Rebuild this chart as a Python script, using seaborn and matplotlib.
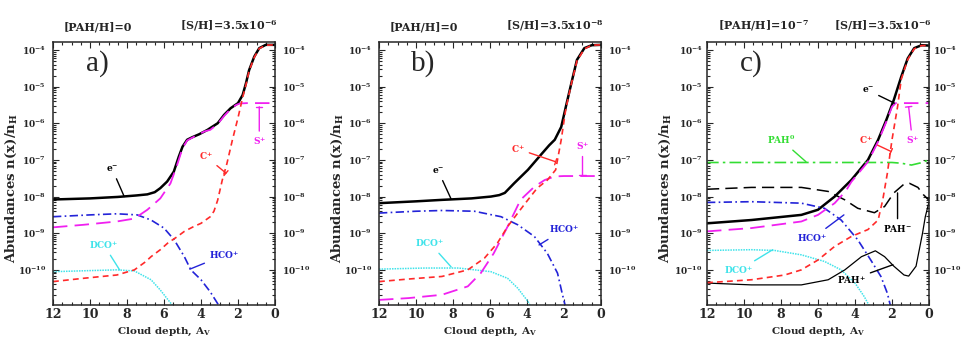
import numpy as np
import pandas as pd
import seaborn as sns
import matplotlib
matplotlib.use('Agg')
import matplotlib.pyplot as plt
from matplotlib.ticker import MultipleLocator, LogLocator, FuncFormatter, NullFormatter

# ---- data: A_V and log10 abundance ----
# panel a
a_e_av = [12, 10, 8.5, 7.5, 6.9, 6.5, 6.2, 5.83, 5.47, 5.2, 5.0, 4.75, 4.47, 4.1, 3.65, 3.1, 2.75, 2.4, 2.0, 1.75, 1.57, 1.4, 1.12, 0.85, 0.5, 0]
a_e_lg = [-8.08, -8.05, -8.01, -7.97, -7.94, -7.88, -7.77, -7.59, -7.32, -6.91, -6.64, -6.45, -6.38, -6.30, -6.18, -6.0, -5.77, -5.59, -5.45, -5.23, -4.91, -4.55, -4.18, -3.95, -3.86, -3.86]
a_c_av = [12, 10.35, 8.55, 7.6, 7.0, 6.7, 6.2, 5.8, 5.3, 4.9, 4.4, 4.0, 3.5, 3.3, 3.1, 2.85, 2.6, 2.3, 2.0, 1.75, 1.57, 1.4, 1.12, 0.85, 0.5, 0]
a_c_lg = [-10.32, -10.23, -10.14, -10.0, -9.78, -9.64, -9.45, -9.27, -9.1, -8.95, -8.82, -8.73, -8.55, -8.4, -8.1, -7.55, -7.1, -6.45, -5.85, -5.3, -4.95, -4.57, -4.2, -3.96, -3.87, -3.86]
a_s_av = [12, 10.35, 8.55, 7.6, 6.9, 6.2, 5.65, 5.3, 5.0, 4.75, 4.5, 4.2, 3.8, 3.5, 3.1, 2.75, 2.4, 2.1, 1.9, 1.5, 1.0, 0.5, 0]
a_s_lg = [-8.84, -8.77, -8.68, -8.6, -8.36, -8.05, -7.64, -7.15, -6.68, -6.47, -6.4, -6.32, -6.22, -6.18, -6.02, -5.8, -5.61, -5.5, -5.46, -5.45, -5.45, -5.45, -5.45]
a_h_av = [12, 10, 8.55, 7.45, 6.7, 6.0, 5.45, 4.9, 4.55, 4.0, 3.5, 3.0]
a_h_lg = [-8.55, -8.5, -8.47, -8.5, -8.64, -8.86, -9.18, -9.64, -10.0, -10.27, -10.6, -11.0]
a_d_av = [12, 10, 8.55, 7.6, 6.7, 6.2, 5.65, 5.3]
a_d_lg = [-10.05, -10.02, -10.0, -10.03, -10.27, -10.55, -10.9, -11.1]

# panel b
b_e_av = [12, 10, 8.6, 7, 5.95, 5.5, 5.2, 4.7, 3.95, 3.25, 2.8, 2.5, 2.15, 1.9, 1.6, 1.3, 0.9, 0.5, 0]
b_e_lg = [-8.18, -8.13, -8.09, -8.05, -8.0, -7.96, -7.9, -7.64, -7.27, -6.86, -6.6, -6.45, -6.1, -5.55, -4.9, -4.27, -3.95, -3.87, -3.86]
b_c_av = [12, 10.4, 8.6, 7.2, 6.3, 5.6, 5.05, 4.5, 3.95, 3.45, 2.9, 2.45, 2.15, 1.9, 1.6, 1.3, 0.9, 0.5, 0]
b_c_lg = [-10.32, -10.25, -10.18, -10.0, -9.68, -9.27, -8.82, -8.45, -8.09, -7.77, -7.55, -7.27, -6.45, -5.6, -4.92, -4.3, -3.97, -3.87, -3.86]
b_s_av = [12, 10.4, 8.6, 7.2, 6.5, 5.8, 5.05, 4.35, 3.6, 3.05, 2.5, 2.0, 1.0, 0]
b_s_lg = [-10.82, -10.77, -10.68, -10.45, -10.09, -9.55, -8.82, -8.09, -7.73, -7.55, -7.45, -7.44, -7.44, -7.44]
b_h_av = [12, 10, 8.6, 6.85, 5.4, 4.5, 3.6, 2.9, 2.35, 2.1, 1.9]
b_h_lg = [-8.45, -8.4, -8.38, -8.4, -8.55, -8.77, -9.09, -9.55, -10.09, -10.64, -11.05]
b_d_av = [12, 9.5, 7.7, 5.95, 5.05, 4.5, 3.95, 3.7]
b_d_lg = [-9.98, -9.95, -9.95, -10.05, -10.23, -10.5, -10.86, -11.1]

# panel c
c_e_av = [12, 9.6, 6.9, 6.0, 5.1, 4.2, 3.3, 2.75, 2.3, 1.9, 1.5, 1.15, 0.8, 0.4, 0]
c_e_lg = [-8.73, -8.64, -8.5, -8.36, -8.0, -7.55, -7.0, -6.45, -5.9, -5.36, -4.73, -4.23, -3.95, -3.87, -3.88]
c_c_av = [12, 9.6, 7.8, 6.9, 6.0, 5.1, 4.2, 3.3, 2.75, 2.5, 2.25, 2.0, 1.7, 1.5, 1.15, 0.8, 0.4, 0]
c_c_lg = [-10.35, -10.27, -10.14, -10.0, -9.73, -9.36, -9.09, -8.9, -8.64, -8.09, -7.36, -6.45, -5.55, -4.8, -4.26, -3.97, -3.88, -3.88]
c_s_av = [12, 9.6, 6.9, 6.0, 5.1, 4.5, 4.2, 3.3, 2.75, 2.3, 2.0, 1.8, 1.0, 0]
c_s_lg = [-8.95, -8.86, -8.68, -8.5, -8.18, -7.85, -7.6, -7.05, -6.5, -5.95, -5.55, -5.45, -5.45, -5.45]
c_h_av = [12, 9.6, 6.9, 5.65, 4.75, 3.85, 3.15, 2.6, 2.25, 2.05]
c_h_lg = [-8.16, -8.14, -8.18, -8.32, -8.64, -9.18, -9.73, -10.18, -10.64, -11.05]
c_d_av = [12, 9.6, 8.35, 6.9, 5.65, 4.75, 4.0, 3.5, 3.15]
c_d_lg = [-9.47, -9.45, -9.47, -9.59, -9.77, -10.0, -10.36, -10.73, -11.05]
c_p0_av = [12, 8, 4, 2.0, 1.5, 0.95, 0.45, 0]
c_p0_lg = [-7.07, -7.07, -7.07, -7.07, -7.09, -7.14, -7.08, -7.0]
c_pm_av = [12, 9.6, 6.9, 5.45, 4.55, 3.85, 2.95, 2.4, 1.9, 1.35, 1.05, 0.6, 0.3, 0]
c_pm_lg = [-7.8, -7.75, -7.75, -7.86, -8.09, -8.32, -8.44, -8.27, -7.9, -7.66, -7.64, -7.75, -7.95, -8.1]
c_pp_av = [12, 9.6, 6.9, 5.45, 4.55, 3.65, 2.9, 2.4, 1.9, 1.35, 1.1, 0.7, 0.35, 0.2, 0]
c_pp_lg = [-10.36, -10.41, -10.41, -10.27, -10.0, -9.64, -9.48, -9.64, -9.9, -10.14, -10.17, -9.9, -9.0, -8.55, -8.15]

panel_tags = ['a)', 'b)', 'c)']
pah_titles = ['[PAH/H]=0', '[PAH/H]=0', '[PAH/H]=10$^{-7}$']
s_titles = ['[S/H]=3.5x10$^{-6}$', '[S/H]=3.5x10$^{-8}$', '[S/H]=3.5x10$^{-6}$']
ytick_exps = [-4, -5, -6, -7, -8, -9, -10]
xticks = [12, 10, 8, 6, 4, 2, 0]

styles = {
    'e': dict(color='black', lw=1.8, ls='-'),
    'HCO': dict(color='#2323d8', lw=1.2, ls=(0, (5, 2, 1, 2))),
    'DCO': dict(color='#3fe3ea', lw=1.1, ls=(0, (1, 0.7))),
    'PAH0': dict(color='#33dd33', lw=1.2, ls=(0, (7, 2.5, 1.5, 2.5))),
    'PAHm': dict(color='black', lw=1.1, ls=(0, (8, 4))),
    'PAHp': dict(color='black', lw=0.9, ls='-'),
    'S': dict(color='#f020f0', lw=1.3, ls=(0, (8, 4))),
    'C': dict(color='#ff2a2a', lw=1.2, ls=(0, (3.5, 2.5))),
}

panels = [
    {'e': (a_e_av, a_e_lg), 'HCO': (a_h_av, a_h_lg), 'DCO': (a_d_av, a_d_lg),
     'S': (a_s_av, a_s_lg), 'C': (a_c_av, a_c_lg)},
    {'e': (b_e_av, b_e_lg), 'HCO': (b_h_av, b_h_lg), 'DCO': (b_d_av, b_d_lg),
     'S': (b_s_av, b_s_lg), 'C': (b_c_av, b_c_lg)},
    {'e': (c_e_av, c_e_lg), 'HCO': (c_h_av, c_h_lg), 'DCO': (c_d_av, c_d_lg),
     'PAH0': (c_p0_av, c_p0_lg), 'PAHm': (c_pm_av, c_pm_lg), 'PAHp': (c_pp_av, c_pp_lg),
     'S': (c_s_av, c_s_lg), 'C': (c_c_av, c_c_lg)},
]

# labels: text, colour, text position (Av, log), end of leader (Av, log), T-end
labels = [
    [('e$^{-}$', 'black', (8.8, -7.25), (8.15, -8.0), False),
     ('C$^{+}$', '#ff2a2a', (3.75, -6.9), (2.65, -7.36), True),
     ('S$^{+}$', '#f020f0', (0.85, -6.5), (0.85, -5.55), True),
     ('HCO$^{+}$', '#2323d8', (2.75, -9.6), (4.6, -9.98), False),
     ('DCO$^{+}$', '#3fe3ea', (9.25, -9.32), (8.4, -10.0), False)],
    [('e$^{-}$', 'black', (8.8, -7.3), (8.1, -8.07), False),
     ('C$^{+}$', '#ff2a2a', (4.5, -6.7), (2.45, -7.05), True),
     ('S$^{+}$', '#f020f0', (1.0, -6.62), (1.0, -7.41), True),
     ('HCO$^{+}$', '#2323d8', (2.0, -8.9), (3.35, -9.32), False),
     ('DCO$^{+}$', '#3fe3ea', (9.25, -9.27), (8.1, -9.92), False)],
    [('e$^{-}$', 'black', (3.3, -5.1), (1.87, -5.45), False),
     ('C$^{+}$', '#ff2a2a', (3.4, -6.45), (2.05, -6.77), True),
     ('S$^{+}$', '#f020f0', (0.9, -6.47), (1.1, -5.55), True),
     ('PAH$^{0}$', '#33dd33', (8.0, -6.45), (6.65, -7.05), False),
     ('PAH$^{-}$', 'black', (1.7, -8.88), (1.7, -7.9), False),
     ('PAH$^{+}$', 'black', (4.2, -10.27), (1.95, -9.86), False),
     ('HCO$^{+}$', '#2323d8', (6.3, -9.14), (4.6, -8.5), False),
     ('DCO$^{+}$', '#3fe3ea', (10.3, -10.02), (8.45, -9.45), False)],
]

sns.set_style('ticks')
plt.rcParams['font.family'] = ['DejaVu Serif']
plt.rcParams['font.weight'] = 'bold'
plt.rcParams['mathtext.fontset'] = 'custom'
plt.rcParams['mathtext.rm'] = 'DejaVu Serif:bold'
plt.rcParams['mathtext.bf'] = 'DejaVu Serif:bold'
plt.rcParams['mathtext.it'] = 'DejaVu Serif:italic:bold'
plt.rcParams['mathtext.default'] = 'rm'

fig = plt.figure(figsize=(9.62, 3.5), dpi=100)
lefts = [53 / 962, 379 / 962, 707 / 962]
ypads = [5, 5, 3]

for i, left in enumerate(lefts):
    ax = fig.add_axes([left, 45 / 350, 222 / 962, 263 / 350])
    for name, (av, lg) in panels[i].items():
        df = pd.DataFrame({'av': av, 'ab': np.power(10.0, lg)})
        st = styles[name]
        sns.lineplot(data=df, x='av', y='ab', ax=ax, color=st['color'],
                     linewidth=st['lw'], linestyle=st['ls'], sort=False,
                     estimator=None)
    ax.set_yscale('log')
    ax.set_xlim(12, 0)
    ax.set_ylim(1.1e-11, 1.65e-4)

    ax.xaxis.set_minor_locator(MultipleLocator(0.5))
    ax.set_xticks(xticks)
    ax.set_xticklabels([str(t) for t in xticks])
    ax.set_yticks([10.0 ** e for e in ytick_exps])
    ax.yaxis.set_major_formatter(FuncFormatter(lambda v, p: '10$^{%d}$' % round(np.log10(v))))
    ax.yaxis.set_minor_locator(LogLocator(base=10, subs=np.arange(2, 10)))
    ax.yaxis.set_minor_formatter(NullFormatter())
    ax.tick_params(which='both', direction='in', top=True, right=True,
                   labelright=True, width=0.8)
    ax.tick_params(which='major', length=4.5)
    ax.tick_params(which='minor', length=2.2)
    ax.tick_params(axis='y', labelsize=6.5, pad=ypads[i])
    ax.tick_params(axis='x', labelsize=9, pad=2.5)
    for sp in ax.spines.values():
        sp.set_linewidth(1.1)

    ax.set_xlabel('Cloud depth, A$_{\\rm V}$', fontsize=7.5, fontweight='bold', labelpad=3)
    ax.set_ylabel('Abundances n(x)/n$_{\\rm H}$', fontsize=9.5, fontweight='bold')
    ax.yaxis.set_label_coords(-0.155, 0.445)

    ax.text(0.05, 1.035, pah_titles[i], transform=ax.transAxes, fontsize=8,
            fontweight='bold', ha='left', va='bottom')
    ax.text(1.01, 1.035, s_titles[i], transform=ax.transAxes, fontsize=8,
            fontweight='bold', ha='right', va='bottom')
    ax.text(9.6, 10 ** -4.36, panel_tags[i], fontsize=21, fontweight='normal',
            family='Liberation Serif', ha='center', va='center')

    for txt, col, (tx, ty), (ex, ey), tee in labels[i]:
        style = '-[, widthB=0.35, lengthB=0' if tee else '-'
        ax.annotate(txt, xy=(ex, 10 ** ey), xytext=(tx, 10 ** ty), color=col,
                    fontsize=6.5, fontweight='bold', ha='center', va='center',
                    arrowprops=dict(arrowstyle=style, color=col, lw=1.0,
                                    shrinkA=1, shrinkB=0))

fig.savefig('out.png', dpi=100)
